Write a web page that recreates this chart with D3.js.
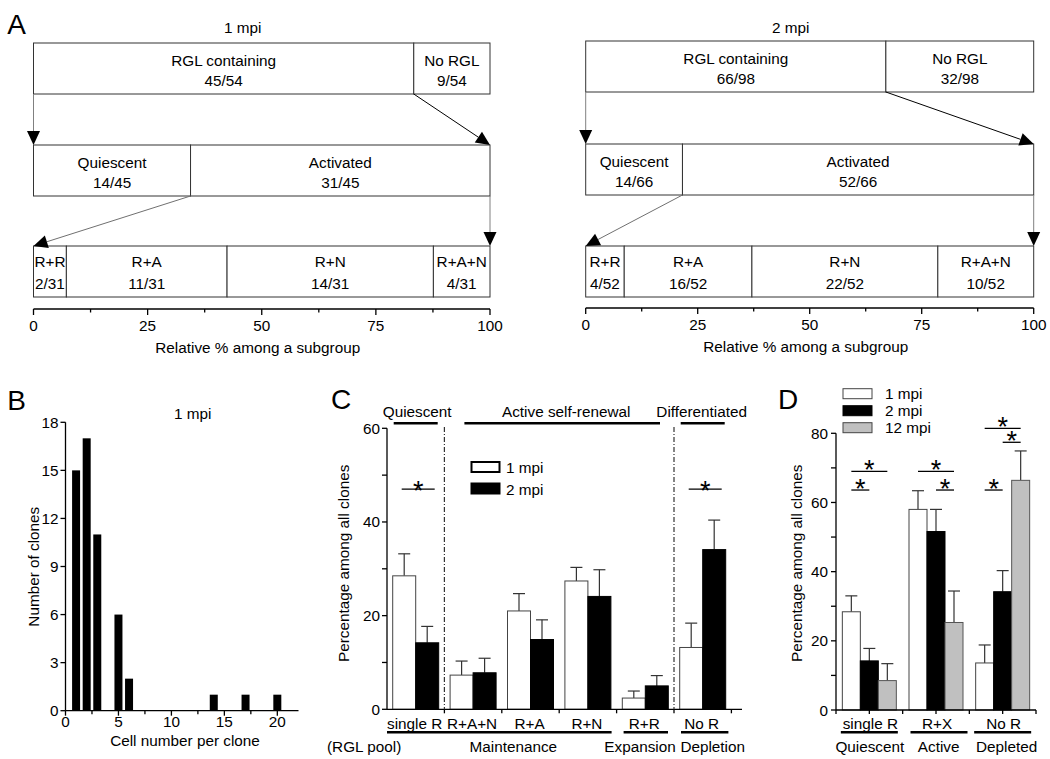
<!DOCTYPE html>
<html><head><meta charset="utf-8">
<script src="https://cdn.jsdelivr.net/npm/d3@7"></script>
<style>
body{margin:0;background:#fff}
text{font-family:"Liberation Sans",Arial,sans-serif;fill:#000;font-size:15.3px}
</style>
</head><body>
<svg id="c" width="1050" height="759"></svg>
<script>
// ---------------- DATA ----------------
// Panel A (segment widths in %, labels as printed)
const A_titles = ["1 mpi", "2 mpi"];
const A1_topNames = ["RGL containing", "No RGL"];
const A1_topCounts = ["45/54", "9/54"];
const A1_topPct = [83.3, 16.7];
const A1_midNames = ["Quiescent", "Activated"];
const A1_midCounts = ["14/45", "31/45"];
const A1_midPct = [34.4, 65.6];
const A1_botNames = ["R+R", "R+A", "R+N", "R+A+N"];
const A1_botCounts = ["2/31", "11/31", "14/31", "4/31"];
const A1_botPct = [7.2, 35.2, 45.2, 12.4];

const A2_topNames = ["RGL containing", "No RGL"];
const A2_topCounts = ["66/98", "32/98"];
const A2_topPct = [67.0, 33.0];
const A2_midNames = ["Quiescent", "Activated"];
const A2_midCounts = ["14/66", "52/66"];
const A2_midPct = [21.6, 78.4];
const A2_botNames = ["R+R", "R+A", "R+N", "R+A+N"];
const A2_botCounts = ["4/52", "16/52", "22/52", "10/52"];
const A2_botPct = [8.6, 28.5, 41.5, 21.4];

const A_ticks = [0, 25, 50, 75, 100];
const A_xTitle = "Relative % among a subgroup";

// Panel B
const B_cells = [1, 2, 3, 5, 6, 14, 17, 20];
const B_counts = [15, 17, 11, 6, 2, 1, 1, 1];
const B_yTicks = [0, 3, 6, 9, 12, 15, 18];
const B_xTicks = [0, 5, 10, 15, 20];

// Panel C
const C_cats = ["single R", "R+A+N", "R+A", "R+N", "R+R", "No R"];
const C_1mpi = [28.5, 7.3, 21.0, 27.4, 2.4, 13.2];
const C_1mpiErr = [4.7, 3.0, 3.7, 2.9, 1.5, 5.2];
const C_2mpi = [14.2, 7.8, 14.9, 24.1, 5.0, 34.1];
const C_2mpiErr = [3.5, 3.1, 4.2, 5.7, 2.2, 6.3];
const C_yTicks = [0, 20, 40, 60];

// Panel D
const D_cats = ["single R", "R+X", "No R"];
const D_groups = ["Quiescent", "Active", "Depleted"];
const D_1mpi = [28.4, 58.0, 13.6];
const D_1mpiErr = [4.6, 5.4, 5.2];
const D_2mpi = [14.2, 51.6, 34.2];
const D_2mpiErr = [3.6, 6.4, 6.1];
const D_12mpi = [8.5, 25.3, 66.4];
const D_12mpiErr = [4.9, 9.1, 8.5];
const D_yTicks = [0, 20, 40, 60, 80];
const D_series = ["1 mpi", "2 mpi", "12 mpi"];
// significance brackets: [group index, bar i, bar j, y level]
const D_sig = [[0,0,2,69],[0,0,1,63.6],[1,0,2,69],[1,1,2,63.6],[2,0,1,63.6],[2,0,2,81.4],[2,1,2,77.4]];

// ---------------- DRAW ----------------
const svg = d3.select("#c");

function txt(g, x, y, s, opts = {}) {
  const t = g.append("text").attr("x", x).attr("y", y).text(s)
    .attr("text-anchor", opts.anchor || "middle")
    .attr("dominant-baseline", opts.baseline || "central");
  if (opts.size) t.style("font-size", opts.size + "px");
  if (opts.rotate) t.attr("transform", `rotate(-90,${x},${y})`);
  return t;
}
function star(g, x, lineY, gap) {
  // alphabetic baseline; the asterisk glyph sits high in the em box
  return txt(g, x, lineY + gap, "*", {size: 27, baseline: "alphabetic"});
}
function line(g, x1, y1, x2, y2, color = "#000", w = 1) {
  return g.append("line").attr("x1", x1).attr("y1", y1).attr("x2", x2).attr("y2", y2)
    .attr("stroke", color).attr("stroke-width", w);
}

// ---- Panel A ----
function arrow(g, x0, y0, x1, y1, color) {
  const L = 14, W = 6.5;
  const dx = x1 - x0, dy = y1 - y0, len = Math.hypot(dx, dy);
  const ux = dx / len, uy = dy / len, nx = -uy, ny = ux;
  const bx = x1 - ux * L, by = y1 - uy * L;
  line(g, x0, y0, bx, by, color, 1);
  g.append("path").attr("d", `M${x1},${y1}L${bx + nx * W},${by + ny * W}L${bx - nx * W},${by - ny * W}Z`).attr("fill", "#000");
}
function drawA(cfg) {
  const g = svg.append("g");
  const x = d3.scaleLinear().domain([0, 100]).range(cfg.range);
  const rows = [
    {names: cfg.topNames, counts: cfg.topCounts, pct: cfg.topPct, y0: cfg.rows[0]},
    {names: cfg.midNames, counts: cfg.midCounts, pct: cfg.midPct, y0: cfg.rows[1]},
    {names: cfg.botNames, counts: cfg.botCounts, pct: cfg.botPct, y0: cfg.rows[2]}
  ];
  const H = 51;
  rows.forEach((r, ri) => {
    let acc = 0;
    r.pct.forEach((p, i) => {
      const a = acc, b = acc + p; acc = b;
      g.append("rect").attr("x", x(a)).attr("y", r.y0).attr("width", x(b) - x(a)).attr("height", H)
        .attr("fill", "#fff").attr("stroke", "#333").attr("stroke-width", 1);
      const cx = (x(a) + x(b)) / 2;
      const l1 = ri === 2 ? 15 : 17, l2 = ri === 2 ? 37 : 37.5;
      txt(g, cx, r.y0 + l1, r.names[i]);
      txt(g, cx, r.y0 + l2, r.counts[i]);
    });
  });
  // arrows
  arrow(g, x(0), rows[0].y0 + H, x(0), rows[1].y0, "#808080");
  arrow(g, x(cfg.topPct[0]), rows[0].y0 + H, x(100), rows[1].y0, "#000");
  arrow(g, x(cfg.midPct[0]), rows[1].y0 + H, x(0), rows[2].y0, "#707070");
  arrow(g, x(100), rows[1].y0 + H, x(100), rows[2].y0, "#808080");
  // axis
  const ay = cfg.axisY;
  line(g, x(0), ay, x(100), ay, "#000", 1.3);
  d3.range(0, 100.1, 12.5).forEach(v => {
    const major = v % 25 === 0;
    line(g, x(v), ay, x(v), ay + (major ? 6 : 3.5), "#000", 1.3);
  });
  A_ticks.forEach(v => txt(g, x(v), ay + 16, v));
  txt(g, (x(0) + x(100)) / 2 - 4, ay + 38, A_xTitle);
  txt(g, (x(0) + x(100)) / 2 - 19, 27, cfg.title);
}
drawA({range: [33.5, 490], rows: [43, 145, 246], axisY: 309, title: A_titles[0],
  topNames: A1_topNames, topCounts: A1_topCounts, topPct: A1_topPct,
  midNames: A1_midNames, midCounts: A1_midCounts, midPct: A1_midPct,
  botNames: A1_botNames, botCounts: A1_botCounts, botPct: A1_botPct});
drawA({range: [585.7, 1033.7], rows: [41, 144, 246], axisY: 308, title: A_titles[1],
  topNames: A2_topNames, topCounts: A2_topCounts, topPct: A2_topPct,
  midNames: A2_midNames, midCounts: A2_midCounts, midPct: A2_midPct,
  botNames: A2_botNames, botCounts: A2_botCounts, botPct: A2_botPct});
txt(svg, 16.5, 24, "A", {size: 28});

// ---- Panel B ----
(function () {
  const g = svg.append("g");
  const x = d3.scaleLinear().domain([0, 22]).range([65.5, 298.5]);
  const y = d3.scaleLinear().domain([0, 18]).range([710.7, 422.3]);
  g.selectAll("rect.b").data(B_cells).enter().append("rect")
    .attr("x", (d) => x(d) - 4).attr("width", 8)
    .attr("y", (d, i) => y(B_counts[i])).attr("height", (d, i) => y(0) - y(B_counts[i]))
    .attr("fill", "#000");
  line(g, x(0), y(0), x(0), y(18), "#000", 1.3);
  line(g, x(0), y(0), x(22), y(0), "#000", 1.3);
  B_yTicks.forEach(v => { line(g, x(0) - 5, y(v), x(0), y(v), "#000", 1.3); txt(g, x(0) - 7, y(v), v, {anchor: "end"}); });
  d3.range(0, 22, 2.5).forEach(v => line(g, x(v), y(0), x(v), y(0) + (v % 5 === 0 ? 5 : 3.5), "#000", 1.3));
  B_xTicks.forEach(v => txt(g, x(v), 721.5, v));
  txt(g, 185, 740, "Cell number per clone");
  txt(g, 33.3, 566.7, "Number of clones", {rotate: true});
  txt(g, 192.7, 413, "1 mpi");
  txt(svg, 16.5, 400, "B", {size: 28});
})();

// ---- Panel C ----
(function () {
  const g = svg.append("g");
  const x = d3.scaleBand().domain(C_cats).range([387, 731.4]).paddingInner(0).paddingOuter(0);
  const y = d3.scaleLinear().domain([0, 60]).range([709.3, 428.3]);
  const bw = 23, s = x.step();
  const cx = c => x(c) + s / 2;
  const series = [
    {v: C_1mpi, e: C_1mpiErr, off: -bw, fill: "#fff", stroke: "#444"},
    {v: C_2mpi, e: C_2mpiErr, off: 0, fill: "#000", stroke: "#000"}
  ];
  series.forEach(sr => {
    C_cats.forEach((c, i) => {
      const xc = cx(c) + sr.off + bw / 2;
      line(g, xc, y(sr.v[i]), xc, y(sr.v[i] + sr.e[i]), "#333", 1.2);
      line(g, xc - 6, y(sr.v[i] + sr.e[i]), xc + 6, y(sr.v[i] + sr.e[i]), "#333", 1.2);
    });
    g.selectAll(null).data(C_cats).enter().append("rect")
      .attr("x", c => cx(c) + sr.off).attr("width", bw)
      .attr("y", (c, i) => y(sr.v[i])).attr("height", (c, i) => y(0) - y(sr.v[i]))
      .attr("fill", sr.fill).attr("stroke", sr.stroke).attr("stroke-width", 1);
  });
  // axes
  line(g, 387, y(0), 387, y(60), "#000", 1.3);
  line(g, 387, y(0), 742, y(0), "#000", 1.3);
  d3.range(0, 61, 10).forEach(v => line(g, 382, y(v), 387, y(v), "#000", 1.3));
  C_yTicks.forEach(v => txt(g, 380, y(v), v, {anchor: "end"}));
  d3.range(1, 7).forEach(k => line(g, 387 + k * s, y(0), 387 + k * s, y(0) + 4, "#000", 1.3));
  C_cats.forEach(c => txt(g, cx(c) - 1, 723, c));
  // dash-dot separators
  [x("R+A+N"), x("No R")].forEach(xx =>
    line(g, xx, 427, xx, y(0), "#333", 1.2).attr("stroke-dasharray", "5,2,1,2"));
  // headers
  const hy = 423.3;
  line(g, cx("single R") - 22, hy, cx("single R") + 22, hy, "#000", 2.5);
  txt(g, cx("single R") + 1.5, 411.7, "Quiescent");
  const a0 = x("R+A+N") + 20, a1 = x("R+R") + s - 14;
  line(g, a0, hy, a1, hy, "#000", 2.5);
  txt(g, (a0 + a1) / 2 + 4, 411.7, "Active self-renewal");
  line(g, cx("No R") - 22, hy, cx("No R") + 22, hy, "#000", 2.5);
  txt(g, cx("No R") - 1, 411.7, "Differentiated");
  // significance
  [["single R", 47], ["No R", 47]].forEach(([c, v]) => {
    const xc = cx(c);
    line(g, xc - 14, y(v), xc + 19, y(v), "#000", 1.3);
    star(g, xc + 2.5, y(v), 11);
  });
  // legend
  const lg = g.append("g");
  [["1 mpi", "#fff", 461], ["2 mpi", "#000", 482.5]].forEach(([n, f, yy]) => {
    lg.append("rect").attr("x", 471.5).attr("y", yy + 1).attr("width", 28).attr("height", 10)
      .attr("fill", f).attr("stroke", "#000").attr("stroke-width", 2);
    txt(lg, 506, yy + 6.5, n, {anchor: "start"});
  });
  // bottom group lines
  const by = 732.3;
  line(g, 387, by, x("R+N") + s - 5, by, "#000", 2.5);
  line(g, x("R+R") + 7, by, x("R+R") + s - 6, by, "#000", 2.5);
  line(g, x("No R") + 7, by, x("No R") + s - 3, by, "#000", 2.5);
  txt(g, 327, 746, "(RGL pool)", {anchor: "start"});
  txt(g, 513.3, 746, "Maintenance");
  txt(g, 640, 746, "Expansion");
  txt(g, 712.7, 746, "Depletion");
  txt(g, 343.3, 563.3, "Percentage among all clones", {rotate: true});
  txt(svg, 341, 399, "C", {size: 28});
})();

// ---- Panel D ----
(function () {
  const g = svg.append("g");
  const x = d3.scaleBand().domain(D_cats).range([836, 1036]);
  const y = d3.scaleLinear().domain([0, 80]).range([710, 433.3]);
  const bw = 18, s = x.step();
  const cx = c => x(c) + s / 2;
  const series = [
    {v: D_1mpi, e: D_1mpiErr, fill: "#fff", stroke: "#444"},
    {v: D_2mpi, e: D_2mpiErr, fill: "#000", stroke: "#000"},
    {v: D_12mpi, e: D_12mpiErr, fill: "#c0c0c0", stroke: "#555"}
  ];
  series.forEach((sr, k) => {
    const off = (k - 1.5) * bw;
    D_cats.forEach((c, i) => {
      const xc = cx(c) + off + bw / 2;
      line(g, xc, y(sr.v[i]), xc, y(sr.v[i] + sr.e[i]), "#333", 1.2);
      line(g, xc - 6, y(sr.v[i] + sr.e[i]), xc + 6, y(sr.v[i] + sr.e[i]), "#333", 1.2);
    });
    g.selectAll(null).data(D_cats).enter().append("rect")
      .attr("x", c => cx(c) + off).attr("width", bw)
      .attr("y", (c, i) => y(sr.v[i])).attr("height", (c, i) => y(0) - y(sr.v[i]))
      .attr("fill", sr.fill).attr("stroke", sr.stroke).attr("stroke-width", 1);
  });
  line(g, 836, y(0), 836, y(80), "#000", 1.3);
  line(g, 836, y(0), 1036, y(0), "#000", 1.3);
  d3.range(0, 81, 10).forEach(v => line(g, 831, y(v), 836, y(v), "#000", 1.3));
  D_yTicks.forEach(v => txt(g, 828, y(v), v, {anchor: "end"}));
  d3.range(0, 7).forEach(k => line(g, 836 + k * s / 2, y(0), 836 + k * s / 2, y(0) + 4, "#000", 1.3));
  D_cats.forEach(c => txt(g, cx(c) + 1, 723, c));
  D_cats.forEach((c, i) => {
    line(g, cx(c) - 28.5 + (i === 1 ? 3 : 0), 732.3, cx(c) + 28.5 + (i === 1 ? 3 : 0), 732.3, "#000", 2.5);
    txt(g, cx(c) + (i === 0 ? 0.5 : i === 1 ? 2.7 : 4), 746, D_groups[i]);
  });
  // significance
  D_sig.forEach(([gi, a, b, v]) => {
    const c = cx(D_cats[gi]);
    const xa = c + (a - 1) * bw, xb = c + (b - 1) * bw;
    line(g, xa, y(v), xb, y(v), "#000", 1.3);
    star(g, (xa + xb) / 2, y(v), 8);
  });
  // legend
  series.forEach((sr, k) => {
    const yy = 388.7 + k * 17;
    g.append("rect").attr("x", 843).attr("y", yy).attr("width", 29).attr("height", 10)
      .attr("fill", sr.fill).attr("stroke", k === 1 ? "#000" : "#444").attr("stroke-width", 1);
    txt(g, 885, yy + 5, D_series[k], {anchor: "start"});
  });
  txt(g, 796.7, 563.3, "Percentage among all clones", {rotate: true});
  txt(svg, 788, 399, "D", {size: 28});
})();
</script>
</body></html>
